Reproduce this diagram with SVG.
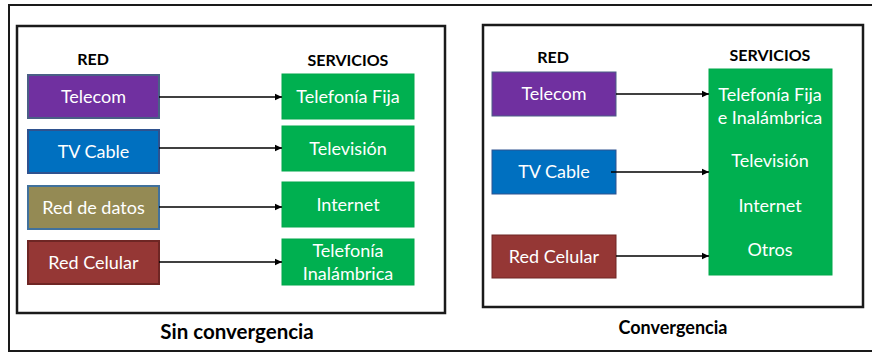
<svg xmlns="http://www.w3.org/2000/svg" width="872" height="352" viewBox="0 0 872 352">
  <style>
    .frame { fill: none; stroke: #1a1a1a; stroke-width: 2; }
    .panel { fill: #ffffff; stroke: #1a1a1a; stroke-width: 2.5; }
    .box { stroke-width: 2; }
    .telecom { fill: #7030A0; stroke: #4A5F86; }
    .tv { fill: #0070C0; stroke: #2F528F; }
    .datos { fill: #948A54; stroke: #41719C; }
    .celular { fill: #953735; stroke: #6E2624; }
    .serv { fill: #00B050; stroke: #00A84A; stroke-width: 1; }
    .thin { stroke-width: 1; }
    .lbl { font-family: Lato, "Liberation Sans", sans-serif; font-size: 18px; fill: #ffffff; text-anchor: middle; }
    .head { font-family: Lato, "Liberation Sans", sans-serif; font-size: 16px; font-weight: bold; fill: #000000; text-anchor: middle; }
    .title { font-family: Lato, "Liberation Sans", sans-serif; font-weight: bold; fill: #000000; text-anchor: middle; }
    .link { stroke: #000000; stroke-width: 1.3; fill: none; marker-end: url(#arrow); }
  </style>
  <defs>
    <marker id="arrow" markerWidth="8" markerHeight="8" refX="7" refY="4" orient="auto" markerUnits="userSpaceOnUse">
      <path d="M0,0.8 L7,4 L0,7.2 Z" fill="#000000"/>
    </marker>
  </defs>

  <rect width="872" height="352" fill="#ffffff"/>
  <!-- outer frame (open on the right) -->
  <path class="frame" d="M880,5 L9,5 L9,351 L880,351"/>

  <!-- left panel: without convergence -->
  <rect class="panel" x="17" y="26" width="428" height="287"/>
  <text class="head" x="93" y="65">RED</text>
  <text class="head" x="348" y="66">SERVICIOS</text>
  <text class="title" x="237" y="339" font-size="20.5">Sin convergencia</text>

  <g id="l-telecom"><rect class="box telecom" x="28" y="75" width="131" height="43"/><text class="lbl" x="93.5" y="103">Telecom</text></g>
  <g id="l-tvcable"><rect class="box tv" x="28" y="130" width="131" height="43"/><text class="lbl" x="93.5" y="158">TV Cable</text></g>
  <g id="l-datos"><rect class="box datos" x="28" y="186" width="131" height="43"/><text class="lbl" x="93.5" y="214">Red de datos</text></g>
  <g id="l-celular"><rect class="box celular" x="28" y="241" width="131" height="43"/><text class="lbl" x="93.5" y="269">Red Celular</text></g>

  <g id="l-fija"><rect class="serv" x="282" y="74" width="132" height="45"/><text class="lbl" x="348" y="103">Telefonía Fija</text></g>
  <g id="l-tv"><rect class="serv" x="282" y="126" width="132" height="45"/><text class="lbl" x="348" y="155">Televisión</text></g>
  <g id="l-internet"><rect class="serv" x="282" y="182" width="132" height="45"/><text class="lbl" x="348" y="211">Internet</text></g>
  <g id="l-inal"><rect class="serv" x="282" y="239" width="132" height="46"/><text class="lbl" x="348" y="257">Telefonía</text><text class="lbl" x="348" y="280">Inalámbrica</text></g>

  <!-- right panel: convergence -->
  <rect class="panel" x="483" y="25" width="380" height="282"/>
  <text class="head" x="553" y="63">RED</text>
  <text class="head" x="770" y="61">SERVICIOS</text>
  <text class="title" x="673" y="334" font-size="18">Convergencia</text>

  <g id="r-telecom"><rect class="box telecom thin" x="492" y="72" width="124" height="44"/><text class="lbl" x="554" y="100">Telecom</text></g>
  <g id="r-tvcable"><rect class="box tv thin" x="492" y="150" width="124" height="44"/><text class="lbl" x="554" y="178">TV Cable</text></g>
  <g id="r-celular"><rect class="box celular thin" x="492" y="235" width="124" height="43"/><text class="lbl" x="554" y="263">Red Celular</text></g>

  <g id="r-servicios">
    <rect class="serv" x="709" y="69" width="123" height="206"/>
    <text class="lbl" x="770" y="101">Telefonía Fija</text>
    <text class="lbl" x="770" y="124">e Inalámbrica</text>
    <text class="lbl" x="770" y="167">Televisión</text>
    <text class="lbl" x="770" y="212">Internet</text>
    <text class="lbl" x="770" y="256">Otros</text>
  </g>

  <g id="connectors">
    <line class="link" x1="159" y1="97" x2="282" y2="97"/>
    <line class="link" x1="159" y1="148" x2="282" y2="148"/>
    <line class="link" x1="159" y1="207" x2="282" y2="207"/>
    <line class="link" x1="159" y1="262" x2="282" y2="262"/>
    <line class="link" x1="616" y1="94" x2="709" y2="94"/>
    <line class="link" x1="611" y1="172" x2="709" y2="172"/>
    <line class="link" x1="616" y1="256" x2="709" y2="256"/>
  </g>
</svg>
